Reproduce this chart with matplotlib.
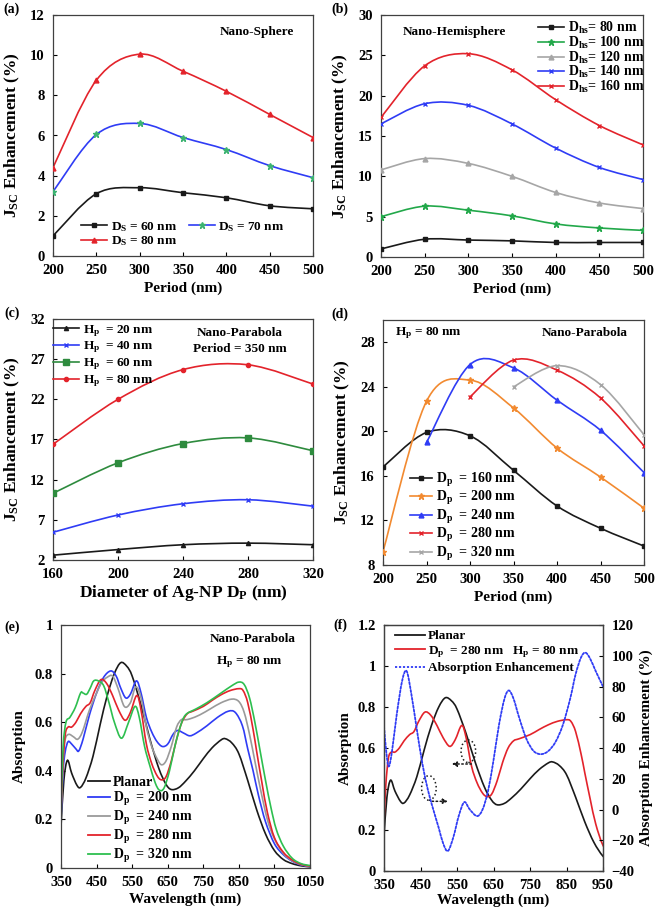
import numpy as np
import matplotlib
matplotlib.use("Agg")
import matplotlib.pyplot as plt
from matplotlib.path import Path
from matplotlib.patches import PathPatch, Ellipse
from matplotlib.lines import Line2D

plt.rcParams['font.family'] = ['Liberation Serif', 'DejaVu Serif']
plt.rcParams['font.weight'] = 'bold'
plt.rcParams['axes.labelweight'] = 'bold'
plt.rcParams['mathtext.fontset'] = 'custom'
plt.rcParams['mathtext.rm'] = 'Liberation Serif:bold'
plt.rcParams['mathtext.it'] = 'Liberation Serif:bold'
plt.rcParams['mathtext.bf'] = 'Liberation Serif:bold'

# ---------------- data ----------------
# (a) Nano-sphere
period_a = [200, 250, 300, 350, 400, 450, 500]
ds60 = [1.0, 3.1, 3.4, 3.15, 2.9, 2.5, 2.35]
ds70 = [3.2, 6.05, 6.6, 5.9, 5.3, 4.5, 3.9]
ds80 = [4.4, 8.75, 10.05, 9.2, 8.2, 7.05, 5.9]

# (b) Nano-hemisphere
period_b = [200, 250, 300, 350, 400, 450, 500]
dhs80 = [1.0, 2.2, 2.1, 2.0, 1.8, 1.8, 1.8]
dhs100 = [5.0, 6.3, 5.8, 5.1, 4.1, 3.6, 3.3]
dhs120 = [10.8, 12.2, 11.6, 10.0, 8.0, 6.7, 6.0]
dhs140 = [16.5, 19.0, 18.8, 16.5, 13.5, 11.1, 9.6]
dhs160 = [17.3, 23.7, 25.2, 23.2, 19.5, 16.3, 13.9]

# (c) Nano-parabola vs diameter
diam_c = [160, 200, 240, 280, 320]
hp20 = [2.6, 3.3, 3.9, 4.1, 3.9]
hp40 = [5.45, 7.6, 9.0, 9.5, 8.7]
hp60 = [10.3, 14.1, 16.5, 17.2, 15.6]
hp80 = [16.4, 22.0, 25.7, 26.3, 23.9]

# (d) Nano-parabola vs period
period_d160 = [200, 250, 300, 350, 400, 450, 500]
dp160 = [16.8, 19.9, 19.6, 16.5, 13.3, 11.3, 9.7]
period_d200 = [200, 250, 300, 350, 400, 450, 500]
dp200 = [9.2, 22.7, 24.6, 22.1, 18.5, 15.9, 13.1]
period_d240 = [250, 300, 350, 400, 450, 500]
dp240 = [19.0, 26.0, 25.7, 22.8, 20.1, 16.3]
period_d280 = [300, 350, 400, 450, 500]
dp280 = [23.1, 26.4, 25.5, 23.0, 18.7]
period_d320 = [350, 400, 450, 500]
dp320 = [24.0, 25.9, 24.2, 19.7]

# (e)/(f) absorption spectra
wl_planar = [350, 358, 368, 380, 395, 405, 420, 440, 460, 480, 500, 518, 535, 550, 575, 600,
             625, 645, 660, 680, 700, 725, 750, 775, 800, 812, 830, 850, 875, 900, 925, 950,
             975, 1000, 1025, 1050]
abs_planar = [0.17, 0.36, 0.443, 0.39, 0.34, 0.332, 0.37, 0.46, 0.59, 0.71, 0.80, 0.845, 0.83,
              0.79, 0.67, 0.53, 0.41, 0.345, 0.323, 0.33, 0.357, 0.40, 0.45, 0.495, 0.527,
              0.532, 0.515, 0.47, 0.36, 0.24, 0.14, 0.072, 0.035, 0.018, 0.009, 0.005]

wl_dp200 = [350, 356, 362, 370, 380, 392, 400, 412, 430, 450, 470, 490, 505, 518, 532, 545, 562,
            575, 590, 605, 620, 635, 650, 665, 678, 695, 712, 730, 760, 790, 820, 840, 860, 875,
            890, 905, 925, 950, 975, 1000, 1025, 1050]
abs_dp200 = [0.2, 0.4, 0.48, 0.52, 0.51, 0.49, 0.482, 0.53, 0.63, 0.72, 0.785, 0.811, 0.79, 0.74,
             0.70, 0.715, 0.77, 0.72, 0.62, 0.56, 0.52, 0.50, 0.51, 0.55, 0.566, 0.555, 0.544,
             0.555, 0.585, 0.62, 0.645, 0.64, 0.585, 0.49, 0.4, 0.3, 0.19, 0.1, 0.055, 0.028,
             0.012, 0.006]

wl_dp240 = [350, 356, 362, 372, 385, 397, 410, 430, 450, 465, 480, 495, 510, 528, 545, 560, 575,
            590, 605, 620, 632, 645, 660, 675, 688, 700, 715, 740, 770, 800, 830, 850, 865, 880,
            895, 910, 930, 950, 975, 1000, 1025, 1050]
abs_dp240 = [0.2, 0.44, 0.53, 0.55, 0.54, 0.53, 0.56, 0.65, 0.72, 0.765, 0.785, 0.79, 0.74, 0.665,
             0.68, 0.745, 0.7, 0.58, 0.5, 0.45, 0.425, 0.44, 0.5, 0.58, 0.61, 0.61, 0.615, 0.63,
             0.655, 0.68, 0.695, 0.685, 0.64, 0.55, 0.44, 0.33, 0.2, 0.12, 0.06, 0.03, 0.014, 0.007]

wl_dp280 = [350, 355, 362, 370, 380, 392, 405, 420, 432, 445, 462, 478, 495, 512, 530, 545, 563,
            575, 590, 605, 620, 632, 645, 660, 675, 690, 705, 720, 750, 775, 800, 825, 850, 862,
            875, 890, 900, 915, 930, 950, 975, 1000, 1025, 1050]
abs_dp280 = [0.24, 0.42, 0.55, 0.58, 0.58, 0.6, 0.635, 0.665, 0.68, 0.73, 0.775, 0.76, 0.71, 0.65,
             0.608, 0.64, 0.71, 0.65, 0.51, 0.43, 0.38, 0.363, 0.375, 0.44, 0.53, 0.6, 0.635,
             0.645, 0.665, 0.69, 0.713, 0.73, 0.738, 0.73, 0.68, 0.57, 0.48, 0.35, 0.23, 0.125,
             0.065, 0.033, 0.015, 0.008]

wl_dp320 = [350, 356, 364, 375, 390, 405, 412, 422, 432, 442, 455, 470, 485, 500, 520, 540, 558,
            570, 585, 600, 615, 627, 640, 655, 670, 685, 700, 730, 760, 800, 830, 850, 865, 880,
            895, 910, 925, 940, 955, 975, 1000, 1025, 1050]
abs_dp320 = [0.25, 0.5, 0.6, 0.62, 0.66, 0.72, 0.72, 0.715, 0.74, 0.77, 0.77, 0.75, 0.68, 0.6,
             0.534, 0.6, 0.665, 0.62, 0.5, 0.42, 0.35, 0.32, 0.33, 0.4, 0.5, 0.58, 0.63, 0.655,
             0.68, 0.72, 0.75, 0.765, 0.755, 0.7, 0.6, 0.48, 0.36, 0.25, 0.16, 0.09, 0.04, 0.018, 0.01]

wl_enh = [350, 356, 363, 372, 385, 400, 412, 425, 440, 455, 470, 485, 500, 512, 525, 540, 555, 570,
          585, 605, 620, 635, 650, 665, 680, 692, 705, 720, 740, 760, 780, 800, 820, 840, 860, 875,
          890, 902, 915, 930, 950]
enh = [54, 38, 28, 38, 62, 84, 90, 75, 52, 30, 13, 0, -12, -22, -27, -18, -4, 4.8, 0, -4.3, 0, 12,
       32, 55, 72, 77.4, 72, 60, 46, 38, 36, 38, 44, 55, 72, 88, 99, 102, 98, 90, 80]

# ---------------- style ----------------
BLACK = '#1a1a1a'
RED = '#e3232b'
BLUE = '#2f3cf5'
GREEN_A = '#3cb371'
GREEN_B = '#22a84a'
GREEN_C = '#2e8b3e'
GREEN_E = '#2dbf4f'
GRAY = '#a6a6a6'
ORANGE = '#f28a30'

W, H = 661, 913
fig = plt.figure(figsize=(W / 100, H / 100), dpi=100)


def ax_px(l, t, r, b):
    return fig.add_axes([l / W, 1 - b / H, (r - l) / W, (b - t) / H])


def fpt(x, y):
    return (x / W, 1 - y / H)


def smooth(ax, x, y, color, lw=1.2, ls='-', t=1 / 6, zorder=2):
    x = np.asarray(x, float)
    y = np.asarray(y, float)
    n = len(x)
    verts = [(x[0], y[0])]
    codes = [Path.MOVETO]
    for i in range(n - 1):
        xm, ym = (x[i - 1], y[i - 1]) if i > 0 else (x[i], y[i])
        xp, yp = (x[i + 2], y[i + 2]) if i + 2 < n else (x[i + 1], y[i + 1])
        c1 = (x[i] + (x[i + 1] - xm) * t, y[i] + (y[i + 1] - ym) * t)
        c2 = (x[i + 1] - (xp - x[i]) * t, y[i + 1] - (yp - y[i]) * t)
        verts += [c1, c2, (x[i + 1], y[i + 1])]
        codes += [Path.CURVE4] * 3
    ax.add_patch(PathPatch(Path(verts, codes), fill=False, edgecolor=color, lw=lw,
                           linestyle=ls, zorder=zorder, capstyle='round'))


def series(ax, x, y, color, marker, mcolor=None, ms=3.5, lw=1.2):
    mcolor = mcolor or color
    smooth(ax, x, y, color, lw=lw)
    ax.plot(x, y, linestyle='none', marker=marker, color=mcolor, ms=ms, mew=1.0, zorder=3)
    return Line2D([], [], color=color, lw=lw, marker=marker, mfc=mcolor, mec=mcolor, ms=ms)


def style(ax, size=10.5):
    for s in ax.spines.values():
        s.set_color('#404040')
        s.set_linewidth(0.9)
    ax.tick_params(direction='in', length=3, width=0.8, labelsize=size)
    ax.tick_params(axis='x', pad=6)
    ax.tick_params(axis='y', pad=6)
    for lab in ax.get_xticklabels() + ax.get_yticklabels():
        lab.set_fontweight('bold')


TF = dict(fontsize=9.5, fontweight='bold')
LAB = dict(fontsize=11, fontweight='bold')
YLAB = dict(fontsize=12.5, fontweight='bold')
JSC = r'J$_{\mathrm{SC}}$ Enhancement (%)'

# ---------------- (a) ----------------
ax = ax_px(53, 15, 313, 256)
h1 = series(ax, period_a, ds60, BLACK, 's')
h2 = series(ax, period_a, ds70, BLUE, '*', mcolor=GREEN_A, ms=5)
h3 = series(ax, period_a, ds80, RED, '^')
ax.set_xlim(200, 500)
ax.set_ylim(0, 12)
ax.set_xticks(range(200, 501, 50))
ax.set_yticks(range(0, 13, 2))
style(ax)
ax.set_xlabel('Period (nm)', **LAB, labelpad=3)
ax.set_ylabel(JSC, **YLAB, labelpad=6)
fig.text(*fpt(257, 32), 'Nano-Sphere', ha='center', va='center', **TF)
ax.legend([h1, h3, h2], [r'D$_\mathrm{S}$ = 60 nm', r'D$_\mathrm{S}$ = 80 nm', r'D$_\mathrm{S}$ = 70 nm'],
          ncol=2, loc='upper left', bbox_to_anchor=fpt(81, 220), bbox_transform=fig.transFigure,
          frameon=False, fontsize=9.5, handlelength=2.0, handletextpad=0.25, labelspacing=0.05,
          columnspacing=0.9, borderpad=0, borderaxespad=0)

# ---------------- (b) ----------------
ax = ax_px(381, 15, 643, 257)
hb = [series(ax, period_b, dhs80, BLACK, 's'),
      series(ax, period_b, dhs100, GREEN_B, '*', ms=5),
      series(ax, period_b, dhs120, GRAY, '^'),
      series(ax, period_b, dhs140, BLUE, 'x'),
      series(ax, period_b, dhs160, RED, 'x')]
ax.set_xlim(200, 500)
ax.set_ylim(0, 30)
ax.set_xticks(range(200, 501, 50))
ax.set_yticks(range(0, 31, 5))
style(ax)
ax.set_xlabel('Period (nm)', **LAB, labelpad=3)
ax.set_ylabel(JSC, **YLAB, labelpad=6)
fig.text(*fpt(454, 32), 'Nano-Hemisphere', ha='center', va='center', **TF)
ax.legend(hb, [r'D$_\mathrm{hs}$= 80 nm', r'D$_\mathrm{hs}$= 100 nm', r'D$_\mathrm{hs}$= 120 nm',
               r'D$_\mathrm{hs}$= 140 nm', r'D$_\mathrm{hs}$= 160 nm'],
          loc='upper left', bbox_to_anchor=fpt(538, 20), bbox_transform=fig.transFigure,
          frameon=False, fontsize=10, handlelength=1.9, handletextpad=0.25, labelspacing=-0.1,
          borderpad=0, borderaxespad=0)

# ---------------- (c) ----------------
ax = ax_px(53, 319, 313, 560)
hc = [series(ax, diam_c, hp20, BLACK, '^', ms=3),
      series(ax, diam_c, hp40, BLUE, 'x', ms=3),
      series(ax, diam_c, hp60, GREEN_C, 's', ms=4.5),
      series(ax, diam_c, hp80, RED, 'o', ms=3)]
ax.set_xlim(160, 320)
ax.set_ylim(2, 32)
ax.set_xticks(range(160, 321, 40))
ax.set_yticks(range(2, 33, 5))
style(ax)
ax.set_xlabel(r'Diameter of Ag-NP D$_\mathrm{P}$ (nm)', fontsize=12.5, fontweight='bold', labelpad=1)
ax.set_ylabel(JSC, **YLAB, labelpad=6)
fig.text(*fpt(240, 333), 'Nano-Parabola', ha='center', va='center', **TF)
fig.text(*fpt(240, 349), 'Period = 350 nm', ha='center', va='center', **TF)
ax.legend(hc, [r'H$_\mathrm{p}$  = 20 nm', r'H$_\mathrm{p}$  = 40 nm', r'H$_\mathrm{p}$  = 60 nm',
               r'H$_\mathrm{p}$  = 80 nm'],
          loc='upper left', bbox_to_anchor=fpt(53, 323), bbox_transform=fig.transFigure,
          frameon=False, fontsize=9.5, handlelength=2.0, handletextpad=0.25, labelspacing=0.08,
          borderpad=0, borderaxespad=0)

# ---------------- (d) ----------------
ax = ax_px(383, 320, 644, 565)
hd = [series(ax, period_d160, dp160, BLACK, 's'),
      series(ax, period_d200, dp200, ORANGE, '*', ms=4.5),
      series(ax, period_d240, dp240, BLUE, '^'),
      series(ax, period_d280, dp280, RED, 'x'),
      series(ax, period_d320, dp320, GRAY, 'x')]
ax.set_xlim(200, 500)
ax.set_ylim(8, 30)
ax.set_xticks(range(200, 501, 50))
ax.set_yticks(range(8, 29, 4))
style(ax)
ax.set_xlabel('Period (nm)', **LAB, labelpad=3)
ax.set_ylabel(JSC, **YLAB, labelpad=6)
fig.text(*fpt(395, 333), r'H$_\mathrm{p}$ = 80 nm', ha='left', va='center', **TF)
fig.text(*fpt(585, 333), 'Nano-Parabola', ha='center', va='center', **TF)
ax.legend(hd, [r'D$_\mathrm{p}$  = 160 nm', r'D$_\mathrm{p}$  = 200 nm', r'D$_\mathrm{p}$  = 240 nm',
               r'D$_\mathrm{p}$  = 280 nm', r'D$_\mathrm{p}$  = 320 nm'],
          loc='upper left', bbox_to_anchor=fpt(410, 471), bbox_transform=fig.transFigure,
          frameon=False, fontsize=10, handlelength=1.6, handletextpad=0.25, labelspacing=0.03,
          borderpad=0, borderaxespad=0)

# ---------------- (e) ----------------
ax = ax_px(61, 625, 310, 868)
smooth(ax, wl_planar, abs_planar, BLACK, lw=1.2)
smooth(ax, wl_dp200, abs_dp200, BLUE, lw=1.2)
smooth(ax, wl_dp240, abs_dp240, '#9a9a9a', lw=1.2)
smooth(ax, wl_dp280, abs_dp280, RED, lw=1.2)
smooth(ax, wl_dp320, abs_dp320, GREEN_E, lw=1.2)
ax.set_xlim(350, 1050)
ax.set_ylim(0, 1)
ax.set_xticks(range(350, 1051, 100))
ax.set_yticks([0, 0.2, 0.4, 0.6, 0.8, 1.0])
ax.set_yticklabels(['0', '0.2', '0.4', '0.6', '0.8', '1'])
style(ax)
ax.set_xlabel('Wavelength (nm)', **LAB, labelpad=2)
ax.set_ylabel('Absorption', **LAB, labelpad=6)
fig.text(*fpt(253, 639), 'Nano-Parabola', ha='center', va='center', **TF)
fig.text(*fpt(249, 662), r'H$_\mathrm{p}$ = 80 nm', ha='center', va='center', **TF)
he = [Line2D([], [], color=c, lw=1.3) for c in [BLACK, BLUE, '#9a9a9a', RED, GREEN_E]]
ax.legend(he, ['Planar', r'D$_\mathrm{p}$  = 200 nm', r'D$_\mathrm{p}$  = 240 nm',
               r'D$_\mathrm{p}$  = 280 nm', r'D$_\mathrm{p}$  = 320 nm'],
          loc='upper left', bbox_to_anchor=fpt(88, 776), bbox_transform=fig.transFigure,
          frameon=False, fontsize=10, handlelength=1.6, handletextpad=0.2, labelspacing=0.08,
          borderpad=0, borderaxespad=0)

# ---------------- (f) ----------------
ax = ax_px(384, 625, 603, 871)
smooth(ax, wl_planar, abs_planar, BLACK, lw=1.2)
smooth(ax, wl_dp280, abs_dp280, RED, lw=1.2)
ax.set_xlim(350, 950)
ax.set_ylim(0, 1.2)
ax.set_xticks(range(350, 951, 100))
ax.set_yticks([0, 0.2, 0.4, 0.6, 0.8, 1.0, 1.2])
ax.set_yticklabels(['0', '0.2', '0.4', '0.6', '0.8', '1', '1.2'])
style(ax)
ax.set_xlabel('Wavelength (nm)', **LAB, labelpad=1)
ax.set_ylabel('Absorption', **LAB, labelpad=4)
ax2 = ax.twinx()
smooth(ax2, wl_enh, enh, BLUE, lw=1.3, ls=(0, (1.2, 1.0)))
ax2.set_ylim(-40, 120)
ax2.set_yticks(range(-40, 121, 20))
style(ax2)
ax2.set_ylabel('Absorption Enhancement (%)', **LAB, labelpad=4)
ax.add_patch(Ellipse((581, 0.584), 40, 0.11, fill=False, ls=':', lw=1.1, ec=BLACK, zorder=5))
ax.add_patch(Ellipse((473, 0.405), 40, 0.12, fill=False, ls=':', lw=1.1, ec=BLACK, zorder=5))
ax.annotate('', xy=(528, 0.522), xytext=(597, 0.522),
            arrowprops=dict(arrowstyle='-|>', ls=':', lw=1.1, color=BLACK, mutation_scale=7))
ax.annotate('', xy=(533, 0.34), xytext=(474, 0.34),
            arrowprops=dict(arrowstyle='-|>', ls=':', lw=1.1, color=BLACK, mutation_scale=7))
hf = [Line2D([], [], color=BLACK, lw=1.3), Line2D([], [], color=RED, lw=1.3),
      Line2D([], [], color=BLUE, lw=1.3, ls=(0, (1.2, 1.0)))]
ax.legend(hf, ['Planar', r'D$_\mathrm{p}$  = 280 nm   H$_\mathrm{p}$ = 80 nm', 'Absorption Enhancement'],
          loc='upper left', bbox_to_anchor=fpt(395, 630), bbox_transform=fig.transFigure,
          frameon=False, fontsize=9.5, handlelength=2.3, handletextpad=0.2, labelspacing=0.15,
          borderpad=0, borderaxespad=0)

# panel labels
for lab, (x, y) in {'(a)': (3, 9), '(b)': (331, 9), '(c)': (4, 313), '(d)': (331, 314),
                    '(e)': (4, 627), '(f)': (333, 625)}.items():
    fig.text(*fpt(x, y), lab, ha='left', va='center', fontsize=10, fontweight='bold')

fig.savefig('out.png', dpi=100)
